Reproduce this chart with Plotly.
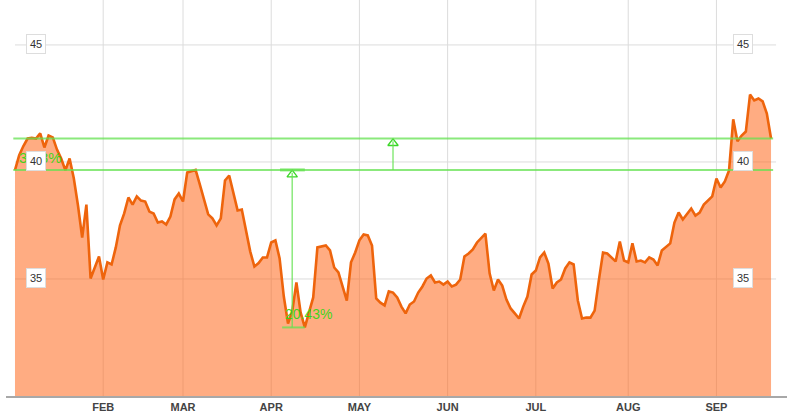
import plotly.graph_objects as go

# ---- data ----
prices = [
    39.65, 40.29, 40.68, 41.00, 41.03, 41.00, 41.22, 40.62, 41.13, 41.05,
    40.53, 40.15, 39.64, 40.15, 39.30, 38.14, 36.77, 38.18, 35.02, 35.50,
    35.96, 34.98, 35.71, 35.62, 36.35, 37.29, 37.80, 38.48, 38.18, 38.53,
    38.35, 38.31, 37.88, 37.80, 37.41, 37.46, 37.33, 37.67, 38.40, 38.65,
    38.31, 39.55, 39.62, 39.66, 39.04, 38.35, 37.76, 37.59, 37.29, 37.59,
    39.21, 39.42, 38.70, 37.93, 37.97, 36.99, 36.18, 35.53, 35.68, 35.92,
    35.92, 36.56, 36.65, 35.88, 34.25, 33.10, 33.61, 34.85, 33.57, 32.93,
    33.53, 34.21, 36.35, 36.39, 36.43, 36.22, 35.49, 35.28, 34.64, 34.08,
    35.71, 36.13, 36.65, 36.90, 36.86, 36.43, 34.17, 33.99, 33.87, 34.47,
    34.42, 34.21, 33.82, 33.53, 33.91, 34.04, 34.42, 34.68, 35.02, 35.15,
    34.85, 34.89, 34.76, 34.89, 34.68, 34.76, 34.98, 35.96, 36.09, 36.26,
    36.56, 36.77, 36.94, 35.24, 34.51, 34.98, 34.72, 34.12, 33.74, 33.53,
    33.31, 33.82, 34.25, 35.19, 35.36, 35.92, 36.13, 35.66, 34.59, 34.85,
    34.98, 35.45, 35.71, 35.62, 34.08, 33.31, 33.35, 33.35, 33.65, 34.94,
    36.13, 36.09, 35.92, 35.75, 36.60, 35.79, 35.71, 36.52, 35.75, 35.79,
    35.71, 35.92, 35.83, 35.58, 36.22, 36.39, 36.52, 37.41, 37.84, 37.54,
    37.76, 38.01, 37.71, 37.84, 38.18, 38.35, 38.53, 39.29, 38.91, 39.17,
    39.64, 41.82, 40.88, 41.13, 41.30, 42.88, 42.63, 42.71, 42.59, 42.07,
    41.00,
]
days = list(range(len(prices)))

month_labels = ["FEB", "MAR", "APR", "MAY", "JUN", "JUL", "AUG", "SEP"]
month_starts = [21, 40, 61, 82, 103, 124, 146, 167]

y_ticks = [35, 40, 45]
y_range = [30, 46.92]
x_range = [-2.14, 183.8]

# measurement annotations
level_upper = 41.00      # last price
level_lower = 39.66      # March high
level_low = 32.93        # April low
arrow_days = [66, 90]
low_span = [63.6, 69]
pct_labels = ["20.43%", "3.38%"]

GREEN_LINE = "rgba(100,225,80,0.75)"
GREEN_TEXT = "rgba(50,215,20,0.95)"

fig = go.Figure()
fig.add_trace(go.Scatter(
    x=days, y=prices, mode="lines",
    line=dict(color="#EE640C", width=2.6),
    fill="tozeroy", fillcolor="rgba(255,100,20,0.535)",
    hoverinfo="skip", showlegend=False,
))

shapes = []
# horizontal gridlines
for t in y_ticks:
    shapes.append(dict(type="line", xref="x", yref="y", x0=0, x1=181.2, y0=t, y1=t,
                       line=dict(color="#dcdcdc", width=1), layer="below"))
# vertical gridlines
for m in month_starts:
    shapes.append(dict(type="line", xref="x", yref="paper", x0=m, x1=m, y0=0, y1=1,
                       line=dict(color="#dcdcdc", width=1), layer="below"))
# green levels
for lv in (level_upper, level_lower):
    shapes.append(dict(type="line", xref="x", yref="y", x0=-0.4, x1=180.5, y0=lv, y1=lv,
                       line=dict(color=GREEN_LINE, width=2), layer="above"))
# short segments around the first measurement
shapes.append(dict(type="line", xref="x", yref="y", x0=low_span[0], x1=low_span[1],
                   y0=level_low, y1=level_low, line=dict(color=GREEN_LINE, width=2)))
shapes.append(dict(type="line", xref="x", yref="y", x0=low_span[0] - 0.5, x1=low_span[1],
                   y0=level_lower, y1=level_lower, line=dict(color=GREEN_LINE, width=3)))
# vertical arrow shafts
shapes.append(dict(type="line", xref="x", yref="y", x0=arrow_days[0], x1=arrow_days[0],
                   y0=level_low, y1=level_lower - 0.12, line=dict(color=GREEN_LINE, width=1.5)))
shapes.append(dict(type="line", xref="x", yref="y", x0=arrow_days[1], x1=arrow_days[1],
                   y0=level_lower, y1=level_upper - 0.12, line=dict(color=GREEN_LINE, width=1.5)))

# arrow heads
fig.add_trace(go.Scatter(
    x=arrow_days, y=[level_lower - 0.2, level_upper - 0.2], mode="markers",
    marker=dict(symbol="triangle-up-open", size=9, color="rgba(60,215,40,1)",
                line=dict(width=1.3)),
    hoverinfo="skip", showlegend=False,
))

annotations = []
# percentage labels
annotations.append(dict(x=63.8, y=33.5, xref="x", yref="y", text=pct_labels[0],
                        showarrow=False, xanchor="left", yanchor="middle",
                        font=dict(size=14, color=GREEN_TEXT, family="Liberation Sans")))
annotations.append(dict(x=0.4, y=40.17, xref="x", yref="y", text=pct_labels[1],
                        showarrow=False, xanchor="left", yanchor="middle",
                        font=dict(size=15, color=GREEN_TEXT, family="Liberation Sans")))
# boxed y-tick labels, both sides
for t in y_ticks:
    for px in (0.0384, 0.9437):
        annotations.append(dict(x=px, y=t + 0.05, xref="paper", yref="y", text=str(t),
                                showarrow=False, xanchor="center", yanchor="middle",
                                bgcolor="white", bordercolor="#dddddd", borderwidth=1,
                                borderpad=3,
                                font=dict(size=11, color="#333333", family="Liberation Sans")))

fig.update_layout(
    width=792, height=415,
    margin=dict(l=6, r=5, t=0, b=19),
    plot_bgcolor="white", paper_bgcolor="white",
    shapes=shapes, annotations=annotations,
    xaxis=dict(range=x_range, showgrid=False, zeroline=False,
               showline=True, linecolor="#a8a8a8", linewidth=1.5,
               tickmode="array", tickvals=month_starts, ticktext=month_labels,
               ticks="", ticklabelstandoff=0,
               tickfont=dict(size=11, color="#444444", family="Liberation Sans",
                             weight="bold")),
    yaxis=dict(range=y_range, showgrid=False, zeroline=False, showticklabels=False,
               showline=False),
)

fig.write_html("out.html", config={"displayModeBar": False},
               post_script="document.body.style.margin='0';document.body.style.padding='0';")
